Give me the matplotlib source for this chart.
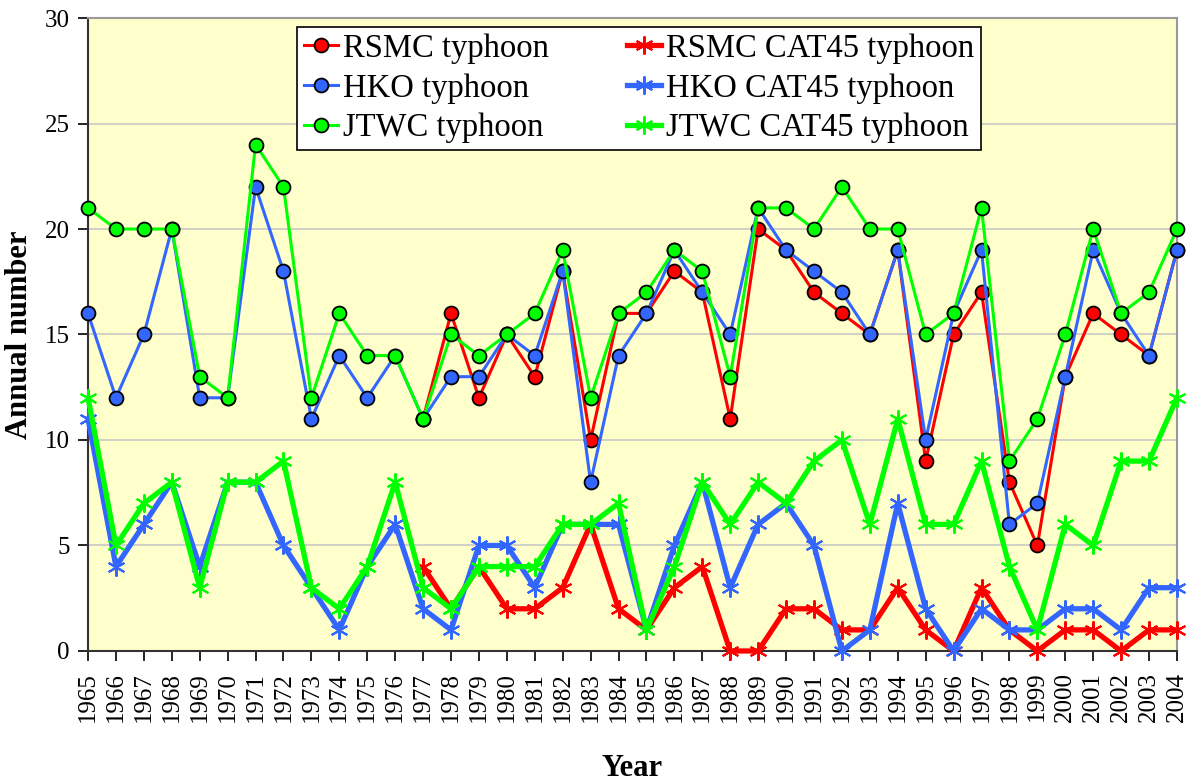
import matplotlib.pyplot as plt
import numpy as np

nan = np.nan

years = list(range(1965, 2005))

# typhoon counts
rsmc_typhoon = [nan, nan, nan, nan, nan, nan, nan, nan, nan, nan, nan, nan,
                11, 16, 12, 15, 13, 18, 10, 16, 16, 18, 17, 11, 20, 19,
                17, 16, 15, 19, 9, 15, 17, 8, 5, 13, 16, 15, 14, 19]
hko_typhoon = [16, 12, 15, 20, 12, 12, 22, 18, 11, 14, 12, 14, 11, 13, 13, 15,
               14, 18, 8, 14, 16, 19, 17, 15, 21, 19, 18, 17, 15, 19, 10, 16,
               19, 6, 7, 13, 19, 16, 14, 19]
jtwc_typhoon = [21, 20, 20, 20, 13, 12, 24, 22, 12, 16, 14, 14, 11, 15, 14, 15,
                16, 19, 12, 16, 17, 19, 18, 13, 21, 21, 20, 22, 20, 20, 15, 16,
                21, 9, 11, 15, 20, 16, 17, 20]

# CAT45 typhoon counts
rsmc_cat45 = [nan, nan, nan, nan, nan, nan, nan, nan, nan, nan, nan, nan,
              4, 2, 4, 2, 2, 3, 6, 2, 1, 3, 4, 0, 0, 2,
              2, 1, 1, 3, 1, 0, 3, 1, 0, 1, 1, 0, 1, 1]
hko_cat45 = [11, 4, 6, 8, 4, 8, 8, 5, 3, 1, 4, 6, 2, 1, 5, 5,
             3, 6, 6, 6, 1, 5, 8, 3, 6, 7, 5, 0, 1, 7, 2, 0,
             2, 1, 1, 2, 2, 1, 3, 3]
jtwc_cat45 = [12, 5, 7, 8, 3, 8, 8, 9, 3, 2, 4, 8, 3, 2, 4, 4,
              4, 6, 6, 7, 1, 4, 8, 6, 8, 7, 9, 10, 6, 11, 6, 6,
              9, 4, 1, 6, 5, 9, 9, 12]

red = '#FF0000'
blue = '#3366FF'
green = '#00FF00'

plt.rcParams['font.family'] = ['Liberation Serif', 'DejaVu Serif']

fig = plt.figure(figsize=(11.88, 7.83), dpi=100)
ax = fig.add_axes([0.0741, 0.1686, 0.9166, 0.8084])
ax.set_facecolor('#FFFFCC')

lines = []
for data, col, name in [(rsmc_typhoon, red, 'RSMC typhoon'),
                        (hko_typhoon, blue, 'HKO typhoon'),
                        (jtwc_typhoon, green, 'JTWC typhoon')]:
    l, = ax.plot(years, data, color=col, lw=2.2, marker='o', ms=10,
                 mfc=col, mec='black', mew=1.3, label=name, clip_on=False, zorder=4)
    lines.append(l)

for data, col, name in [(rsmc_cat45, red, 'RSMC CAT45 typhoon'),
                        (hko_cat45, blue, 'HKO CAT45 typhoon'),
                        (jtwc_cat45, green, 'JTWC CAT45 typhoon')]:
    l, = ax.plot(years, data, color=col, lw=3.8, marker=(6, 2, 0), ms=13,
                 mec=col, mew=1.5, label=name, clip_on=False, zorder=3)
    lines.append(l)

ax.set_xlim(1965, 2004)
ax.set_ylim(0, 30)
ax.set_yticks(range(0, 31, 5))
ax.set_xticks(years)
ax.set_xticklabels([str(y) for y in years], rotation=90)
ax.tick_params(axis='both', labelsize=18, direction='out', length=7,
               width=1.2, color='black')
ax.tick_params(axis='x', pad=8)
ax.tick_params(axis='y', pad=6)
ax.grid(axis='y', color='#C8C8C8', lw=1.2)
ax.set_axisbelow(True)

for s in ['left', 'bottom']:
    ax.spines[s].set_color('#333333')
    ax.spines[s].set_linewidth(1.5)
for s in ['top', 'right']:
    ax.spines[s].set_color('#999999')
    ax.spines[s].set_linewidth(1.5)

ax.set_ylabel('Annual number', fontsize=22, fontweight='bold', labelpad=8)
ax.set_xlabel('Year', fontsize=22, fontweight='bold', labelpad=23)

leg = ax.legend(handles=lines, ncol=2, loc='upper left',
                bbox_to_anchor=(0.1919, 0.986), fontsize=23.5, frameon=True,
                fancybox=False, edgecolor='black', framealpha=1,
                handlelength=1.05, columnspacing=2.4, labelspacing=0.28,
                borderpad=0.2, handletextpad=0.15, borderaxespad=0)
leg.get_frame().set_linewidth(1.2)

fig.savefig('out.png', dpi=100)
